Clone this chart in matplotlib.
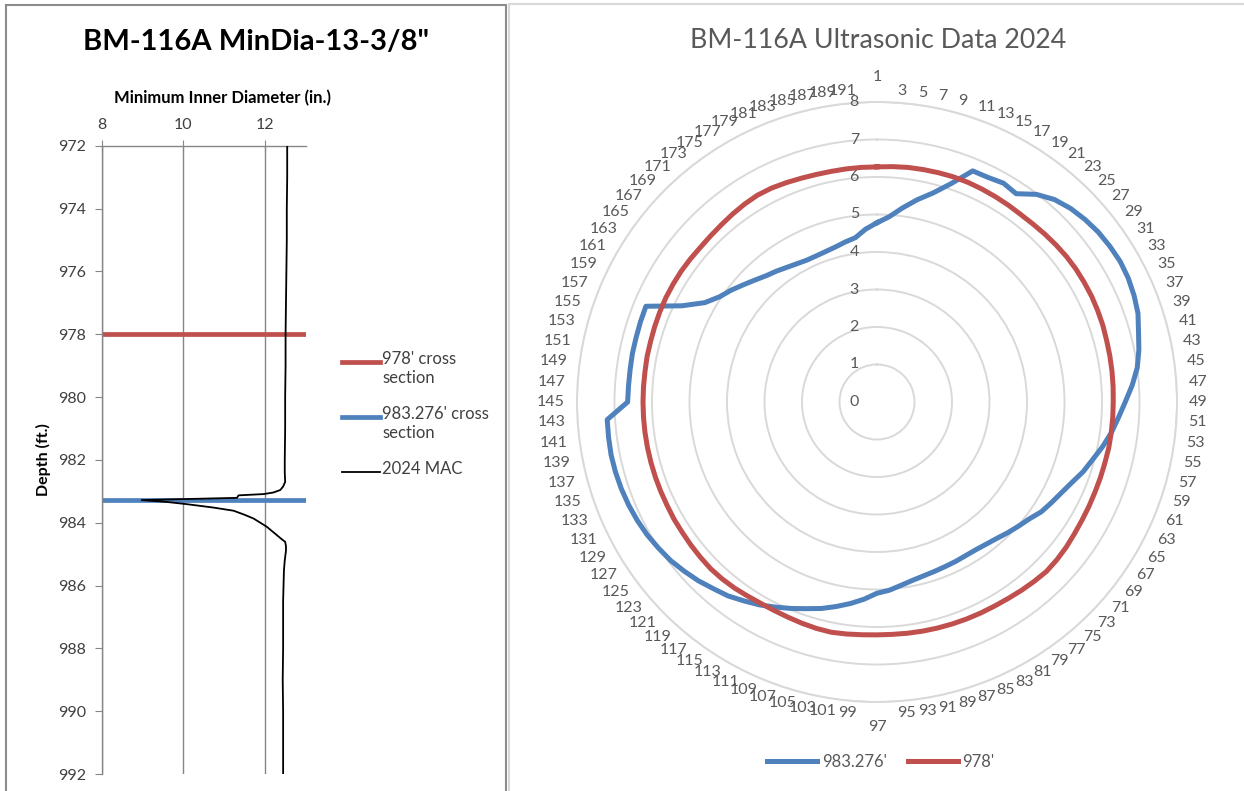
import numpy as np
import matplotlib
matplotlib.use("Agg")
import matplotlib.pyplot as plt
from matplotlib.lines import Line2D
from matplotlib.patches import Rectangle
from matplotlib.transforms import offset_copy

plt.rcParams['font.family'] = ['Lato', 'DejaVu Sans']

# ---------------- data ----------------
# Caliper log: minimum inner diameter (in.) against depth (ft.)
mac_depth = [972.0, 973.0, 974.0, 975.0, 976.0, 977.0, 978.0, 979.0, 980.0,
             981.0, 982.0, 982.4, 982.7, 982.85, 982.96, 983.04, 983.09,
             983.13, 983.21, 983.28, 983.34, 983.41, 983.52, 983.62, 983.75,
             983.87, 984.0, 984.13, 984.27, 984.40, 984.52, 984.61, 984.75,
             984.89, 985.2, 985.52, 986.0, 986.5, 987.0, 988.0, 989.0,
             990.0, 991.0, 992.0]
mac_dia = [12.54, 12.54, 12.53, 12.53, 12.52, 12.51, 12.50, 12.50, 12.49,
           12.49, 12.48, 12.48, 12.49, 12.44, 12.37, 12.20, 11.96,
           11.35, 11.31, 8.98, 9.59, 10.08, 10.74, 11.23, 11.50,
           11.72, 11.88, 12.04, 12.17, 12.29, 12.40, 12.49, 12.51,
           12.51, 12.48, 12.46, 12.45, 12.44, 12.44, 12.44, 12.43,
           12.44, 12.44, 12.44]
section_depths = [978.0, 983.276]
section_names = ["978' cross\nsection", "983.276' cross\nsection"]
mac_name = "2024 MAC"

# Ultrasonic cross sections: radius (in.) at each of 96 azimuth stations
station_labels = [str(n) for n in range(1, 192, 2)]
radius_983 = [4.78, 4.95, 5.22, 5.50, 5.77, 6.15, 6.67, 6.68, 6.74, 6.68,
              6.98, 7.18, 7.30, 7.38, 7.44, 7.47, 7.49, 7.47, 7.42, 7.35,
              7.22, 7.12, 7.00, 6.82, 6.62, 6.45, 6.30, 6.13, 5.95, 5.80,
              5.62, 5.48, 5.37, 5.27, 5.12, 5.02, 4.93, 4.84, 4.78, 4.74,
              4.73, 4.74, 4.75, 4.77, 4.80, 4.85, 4.93, 5.03, 5.10, 5.27,
              5.42, 5.56, 5.70, 5.82, 5.96, 6.10, 6.25, 6.38, 6.52, 6.62,
              6.74, 6.84, 6.94, 7.01, 7.08, 7.13, 7.17, 7.20, 7.22, 7.23,
              7.22, 7.21, 6.65, 6.64, 6.64, 6.65, 6.65, 6.66, 6.67, 5.80,
              5.30, 5.05, 4.90, 4.74, 4.60, 4.48, 4.40, 4.32, 4.26, 4.22,
              4.22, 4.24, 4.28, 4.35, 4.42, 4.62]
radius_978 = [6.27, 6.29, 6.31, 6.32, 6.33, 6.34, 6.34, 6.33, 6.32, 6.31,
              6.30, 6.31, 6.33, 6.35, 6.37, 6.38, 6.38, 6.38, 6.37, 6.36,
              6.34, 6.33, 6.32, 6.31, 6.30, 6.30, 6.30, 6.30, 6.29, 6.29,
              6.29, 6.30, 6.31, 6.33, 6.36, 6.38, 6.39, 6.36, 6.33, 6.30,
              6.28, 6.27, 6.26, 6.25, 6.24, 6.23, 6.22, 6.21, 6.21, 6.22,
              6.24, 6.26, 6.25, 6.23, 6.21, 6.20, 6.20, 6.22, 6.25, 6.27,
              6.28, 6.27, 6.26, 6.25, 6.25, 6.24, 6.24, 6.24, 6.24, 6.24,
              6.24, 6.24, 6.24, 6.24, 6.24, 6.25, 6.25, 6.26, 6.27, 6.28,
              6.28, 6.28, 6.27, 6.26, 6.27, 6.29, 6.32, 6.35, 6.37, 6.36,
              6.33, 6.30, 6.28, 6.27, 6.27, 6.27]
radar_series = [("983.276'", radius_983, '#4F81BD'),
                ("978'", radius_978, '#C0504D')]
ring_values = list(range(0, 9))

# ---------------- figure ----------------
W, H = 1244, 791
fig = plt.figure(figsize=(W / 100, H / 100), dpi=100)


def fx(px):
    return px / W


def fy(py):
    return 1 - py / H


# panel frames
fig.add_artist(Rectangle((fx(6), fy(800)), fx(500), (800 - 5) / H,
                         fill=False, edgecolor='#8C8C8C', lw=1.5,
                         transform=fig.transFigure))
fig.add_artist(Rectangle((fx(508.5), fy(800)), fx(760), (800 - 4) / H,
                         fill=False, edgecolor='#D9D9D9', lw=1.5,
                         transform=fig.transFigure))

# ---------------- left: depth log ----------------
grid_gray = '#868686'
text_dark = '#404040'
axL = fig.add_axes([fx(101.7), fy(774), fx(204.3), 628.3 / H])
axL.set_xlim(8, 13)
axL.set_ylim(992, 972)
axL.xaxis.tick_top()
axL.set_xticks([8, 10, 12])
axL.set_yticks(np.arange(972, 993, 2))
axL.grid(axis='x', color=grid_gray, lw=1.0)
axL.grid(axis='y', visible=False)
for side in ('right', 'bottom'):
    axL.spines[side].set_visible(False)
for side in ('left', 'top'):
    axL.spines[side].set_color(grid_gray)
    axL.spines[side].set_linewidth(1.0)
axL.tick_params(axis='x', direction='inout', length=8, color=grid_gray,
                labelsize=11.5, labelcolor=text_dark, pad=6)
axL.tick_params(axis='y', direction='out', length=5, color=grid_gray,
                labelsize=11.5, labelcolor=text_dark, pad=6)

section_colors = ['#C0504D', '#4F81BD']
for d, c in zip(section_depths, section_colors):
    axL.axhline(d, color=c, lw=3.4, zorder=2, solid_capstyle='butt')
axL.plot(mac_dia, mac_depth, color='black', lw=1.3, zorder=3)

fig.text(fx(256), fy(42), 'BM-116A MinDia-13-3/8"', ha='center', va='center',
         fontsize=21, fontweight='bold', color='black')
fig.text(fx(222), fy(98), 'Minimum Inner Diameter (in.)', ha='center',
         va='center', fontsize=12, fontweight='bold', color='black')
fig.text(fx(43), fy(460), 'Depth (ft.)', ha='center', va='center',
         rotation=90, fontsize=11.5, fontweight='bold', color='black')

# left legend
legend_rows = [(362, section_names[0], section_colors[0], 3.4),
               (417, section_names[1], section_colors[1], 3.4),
               (472, mac_name, 'black', 1.3)]
for yy, name, col, lw in legend_rows:
    fig.add_artist(Line2D([fx(342), fx(380)], [fy(yy), fy(yy)], color=col,
                          lw=lw, transform=fig.transFigure))
    fig.text(fx(382), fy(yy - 11), name, ha='left', va='top', fontsize=12,
             color=text_dark, linespacing=1.25)

# ---------------- right: radar ----------------
cx, cy, R = 877, 402, 300
axR = fig.add_axes([fx(cx - R), fy(cy + R), fx(2 * R), 2 * R / H],
                   projection='polar')
axR.set_theta_zero_location('N')
axR.set_theta_direction(-1)
axR.set_ylim(0, 8)
axR.set_xticks([])
axR.set_yticks(ring_values[1:])
axR.set_yticklabels([])
axR.yaxis.grid(True, color='#D9D9D9', lw=1.4)
axR.xaxis.grid(False)
axR.spines['polar'].set_color('#D9D9D9')
axR.spines['polar'].set_linewidth(1.4)
axR.set_facecolor('none')

n = len(station_labels)
theta = np.deg2rad(np.arange(n) * 360.0 / n)
handles = []
for name, vals, col in radar_series:
    t = np.append(theta, theta[0])
    v = np.append(vals, vals[0])
    ln, = axR.plot(t, v, color=col, lw=3.6, label=name,
                   solid_joinstyle='round', zorder=3)
    handles.append(ln)

label_gray = '#595959'
for i, lab in enumerate(station_labels):
    deg = i * 360.0 / n
    if np.isclose(deg, 0) or np.isclose(deg, 180):
        axR.text(theta[i], 8.67, lab, ha='center', va='center',
                 fontsize=11.5, color=label_gray)
    elif deg < 180:
        axR.text(theta[i], 8.32, lab, ha='left', va='center',
                 fontsize=11.5, color=label_gray)
    else:
        axR.text(theta[i], 8.32, lab, ha='right', va='center',
                 fontsize=11.5, color=label_gray)

rtrans = offset_copy(axR.transData, fig=fig, x=-18, y=0, units='dots')
for v in ring_values:
    axR.text(0, v, str(v), transform=rtrans, ha='right', va='center',
             fontsize=11.5, color=label_gray)

fig.text(fx(878), fy(40), 'BM-116A Ultrasonic Data 2024', ha='center',
         va='center', fontsize=19.3, color=label_gray)

fig.legend(handles=handles, loc='center', bbox_to_anchor=(fx(881), fy(762)),
           ncol=2, frameon=False, handlelength=3.0, handletextpad=0.25,
           columnspacing=1.3, fontsize=12, labelcolor=label_gray)

fig.savefig('out.png', dpi=100)
